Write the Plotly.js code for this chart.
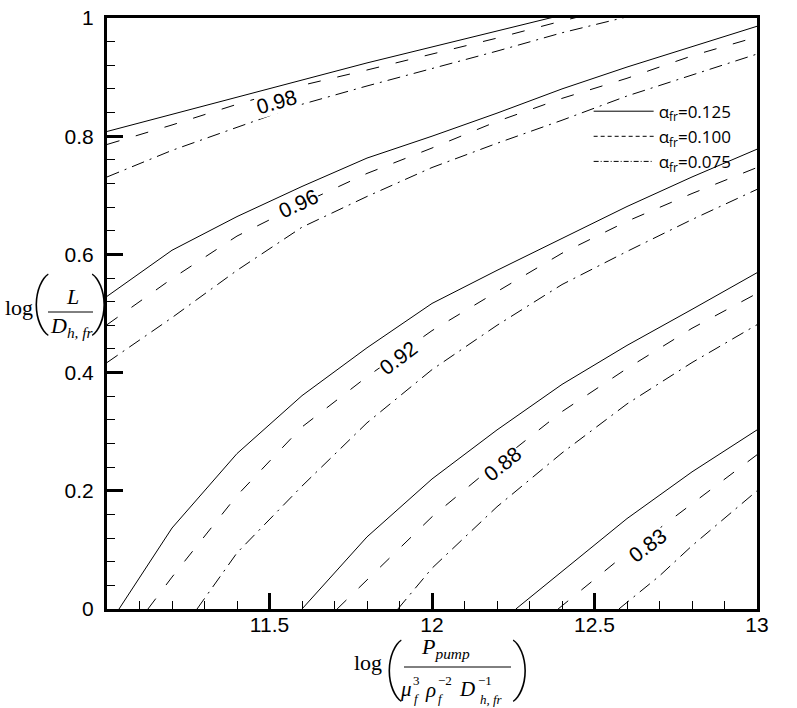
<!DOCTYPE html>
<html>
<head>
<meta charset="utf-8">
<script src="https://cdn.plot.ly/plotly-3.0.1.min.js"></script>
<style>html,body{margin:0;padding:0;background:#fff;}#chart{width:797px;height:708px;}</style>
</head>
<body>
<div id="chart"></div>
<script>
// ---- data: log(L/D) vs log(Ppump/...) contour lines of efficiency ----
const levels = ['0.98', '0.96', '0.92', '0.88', '0.83'];
const alphaNames = ['α<sub>fr</sub>=0.125', 'α<sub>fr</sub>=0.100', 'α<sub>fr</sub>=0.075'];
const xTickVals = [11.5, 12, 12.5, 13];
const yTickVals = [0, 0.2, 0.4, 0.6, 0.8, 1];

// level 0.98
const x98_125 = [11.0, 11.2, 11.4, 11.6, 11.8, 12.0, 12.2, 12.4, 12.6];
const y98_125 = [0.808, 0.837, 0.866, 0.895, 0.924, 0.951, 0.978, 1.005, 1.032];
const x98_100 = [11.0, 11.2, 11.4, 11.6, 11.8, 12.0, 12.2, 12.4, 12.6];
const y98_100 = [0.786, 0.819, 0.854, 0.886, 0.912, 0.939, 0.966, 0.995, 1.022];
const x98_075 = [11.0, 11.2, 11.4, 11.6, 11.8, 12.0, 12.2, 12.4, 12.6, 12.8];
const y98_075 = [0.731, 0.776, 0.815, 0.854, 0.885, 0.914, 0.944, 0.975, 1.002, 1.029];

// level 0.96
const x96_125 = [11.0, 11.2, 11.4, 11.6, 11.8, 12.0, 12.2, 12.4, 12.6, 12.8, 13.0];
const y96_125 = [0.529, 0.607, 0.664, 0.715, 0.763, 0.800, 0.839, 0.880, 0.917, 0.951, 0.986];
const x96_100 = [11.0, 11.2, 11.4, 11.6, 11.8, 12.0, 12.2, 12.4, 12.6, 12.8, 13.0];
const y96_100 = [0.481, 0.559, 0.631, 0.686, 0.737, 0.780, 0.825, 0.864, 0.898, 0.936, 0.968];
const x96_075 = [11.0, 11.2, 11.4, 11.6, 11.8, 12.0, 12.2, 12.4, 12.6, 12.8, 13.0];
const y96_075 = [0.417, 0.493, 0.573, 0.646, 0.698, 0.747, 0.788, 0.827, 0.868, 0.903, 0.939];

// level 0.92
const x92_125 = [11.037, 11.2, 11.4, 11.6, 11.8, 12.0, 12.2, 12.4, 12.6, 12.8, 13.0];
const y92_125 = [0.0, 0.137, 0.263, 0.361, 0.442, 0.517, 0.573, 0.627, 0.681, 0.731, 0.778];
const x92_100 = [11.126, 11.2, 11.4, 11.6, 11.8, 12.0, 12.2, 12.4, 12.6, 12.8, 13.0];
const y92_100 = [0.0, 0.054, 0.192, 0.308, 0.393, 0.471, 0.537, 0.602, 0.656, 0.703, 0.747];
const x92_075 = [11.277, 11.4, 11.6, 11.8, 12.0, 12.2, 12.4, 12.6, 12.8, 13.0];
const y92_075 = [0.0, 0.095, 0.208, 0.315, 0.405, 0.480, 0.549, 0.605, 0.659, 0.710];

// level 0.88
const x88_125 = [11.6, 11.8, 12.0, 12.2, 12.4, 12.6, 12.8, 13.0];
const y88_125 = [0.0, 0.122, 0.220, 0.303, 0.380, 0.446, 0.507, 0.569];
const x88_100 = [11.708, 11.8, 12.0, 12.2, 12.4, 12.6, 12.8, 13.0];
const y88_100 = [0.0, 0.049, 0.156, 0.247, 0.334, 0.407, 0.475, 0.534];
const x88_075 = [11.895, 12.0, 12.2, 12.4, 12.6, 12.8, 13.0];
const y88_075 = [0.0, 0.069, 0.173, 0.264, 0.347, 0.417, 0.481];

// level 0.83
const x83_125 = [12.258, 12.4, 12.6, 12.8, 13.0];
const y83_125 = [0.0, 0.064, 0.153, 0.232, 0.303];
const x83_100 = [12.388, 12.6, 12.8, 13.0];
const y83_100 = [0.0, 0.095, 0.178, 0.261];
const x83_075 = [12.575, 12.7, 12.8, 13.0];
const y83_075 = [0.0, 0.056, 0.107, 0.200];

// contour label positions (data coords) and angles
const labelX = [11.523, 11.588, 11.898, 12.218, 12.662];
const labelY = [0.859, 0.686, 0.425, 0.246, 0.108];
const labelAngle = [-16, -25, -37, -39, -37];

// ---- styles ----
const dashes = ['solid', '13px,17px', '13px,6px,2px,6px'];
const legendDashes = ['solid', '4px,3px', '5px,2px,1px,2px'];

const series = [
  [[x98_125, y98_125], [x98_100, y98_100], [x98_075, y98_075]],
  [[x96_125, y96_125], [x96_100, y96_100], [x96_075, y96_075]],
  [[x92_125, y92_125], [x92_100, y92_100], [x92_075, y92_075]],
  [[x88_125, y88_125], [x88_100, y88_100], [x88_075, y88_075]],
  [[x83_125, y83_125], [x83_100, y83_100], [x83_075, y83_075]]
];

const traces = [];
series.forEach((lev, li) => {
  lev.forEach((s, ai) => {
    traces.push({
      x: s[0], y: s[1], type: 'scatter', mode: 'lines',
      line: {color: 'black', width: 1, dash: dashes[ai]},
      showlegend: false, hoverinfo: 'skip', name: levels[li]
    });
  });
});
// legend entries
alphaNames.forEach((n, ai) => {
  traces.push({
    x: [null], y: [null], type: 'scatter', mode: 'lines',
    line: {color: 'black', width: 1, dash: legendDashes[ai]},
    name: n, showlegend: true
  });
});

// ---- layout helpers ----
const L0 = 107, T0 = 18, PW = 650, PH = 591;
function px2p(px, py) { return {x: (px - L0) / PW, y: (T0 + PH - py) / PH}; }
function ann(px, py, text, size, extra) {
  const p = px2p(px, py);
  return Object.assign({
    xref: 'paper', yref: 'paper', x: p.x, y: p.y, text: text, showarrow: false,
    xanchor: 'center', yanchor: 'middle',
    font: {family: 'Liberation Serif', size: size, color: 'black'}
  }, extra || {});
}
const parenFont = {family: 'Roboto', size: 62, color: 'black', weight: 100};

const annotations = [];
levels.forEach((t, i) => {
  annotations.push({
    xref: 'x', yref: 'y', x: labelX[i], y: labelY[i], text: t, showarrow: false,
    textangle: labelAngle[i], bgcolor: 'white', borderpad: 0,
    font: {family: 'Liberation Sans', size: 21, color: 'black'}
  });
});

// y-axis title: log( L / D_h,fr )
annotations.push(ann(19, 307, 'log', 22));
annotations.push(ann(40, 300, '(', 62, {font: parenFont}));
annotations.push(ann(72, 296, '<i>L</i>', 22));
annotations.push(ann(72, 327, '<i>D</i><sub><i>h, fr</i></sub>', 22));
annotations.push(ann(100, 300, ')', 62, {font: parenFont}));
// x-axis title: log( P_pump / (mu_f^3 rho_f^-2 D_h,fr^-1) )
annotations.push(ann(368, 662, 'log', 22));
annotations.push(ann(393, 666, '(', 62, {font: parenFont}));
annotations.push(ann(445, 648, '<i>P</i><sub><i>pump</i></sub>', 22));
annotations.push(ann(406, 689, '<i>μ</i>', 21));
annotations.push(ann(416, 680, '3', 13));
annotations.push(ann(417, 698, '<i>f</i>', 13));
annotations.push(ann(430, 690, '<i>ρ</i>', 21));
annotations.push(ann(445, 680, '−2', 13));
annotations.push(ann(441, 698, '<i>f</i>', 13));
annotations.push(ann(467, 689, '<i>D</i>', 21));
annotations.push(ann(485, 680, '−1', 13));
annotations.push(ann(491, 699, '<i>h, fr</i>', 13));
annotations.push(ann(521, 666, ')', 62, {font: parenFont}));

const b1 = px2p(48, 312), b2 = px2p(93, 312);
const b3 = px2p(404, 667), b4 = px2p(511, 667);
const shapes = [
  {type: 'line', xref: 'paper', yref: 'paper', x0: b1.x, x1: b2.x, y0: b1.y, y1: b2.y, line: {color: 'black', width: 1}},
  {type: 'line', xref: 'paper', yref: 'paper', x0: b3.x, x1: b4.x, y0: b3.y, y1: b4.y, line: {color: 'black', width: 1}}
];

const axisCommon = {
  showgrid: false, zeroline: false, showline: true, linewidth: 3, linecolor: 'black', mirror: true,
  ticks: 'inside', ticklen: 16, tickwidth: 3, tickcolor: 'black',
  tickfont: {family: 'Liberation Sans', size: 21, color: 'black'}
};

const layout = {
  width: 797, height: 708,
  margin: {l: L0, r: 797 - L0 - PW, t: T0, b: 708 - T0 - PH},
  paper_bgcolor: 'white', plot_bgcolor: 'white',
  showlegend: true,
  legend: {
    x: 0.741, y: 0.872, xanchor: 'left', yanchor: 'top',
    bgcolor: 'rgba(0,0,0,0)', borderwidth: 0,
    font: {family: 'Open Sans', size: 17, color: 'black'},
    itemwidth: 60, tracegroupgap: 0
  },
  xaxis: Object.assign({}, axisCommon, {
    range: [11, 13], tickmode: 'array', tickvals: xTickVals, ticklabelstandoff: -5,
    minor: {ticks: 'inside', ticklen: 8, tickwidth: 1, tickcolor: 'black', tickmode: 'linear', dtick: 0.1, tick0: 11}
  }),
  yaxis: Object.assign({}, axisCommon, {
    range: [0, 1], tickmode: 'array', tickvals: yTickVals, ticklabelstandoff: 6,
    minor: {ticks: 'inside', ticklen: 8, tickwidth: 1, tickcolor: 'black', tickmode: 'linear', dtick: 0.04, tick0: 0}
  }),
  annotations: annotations,
  shapes: shapes
};

Plotly.newPlot('chart', traces, layout, {displayModeBar: false, staticPlot: true});
</script>
</body>
</html>
